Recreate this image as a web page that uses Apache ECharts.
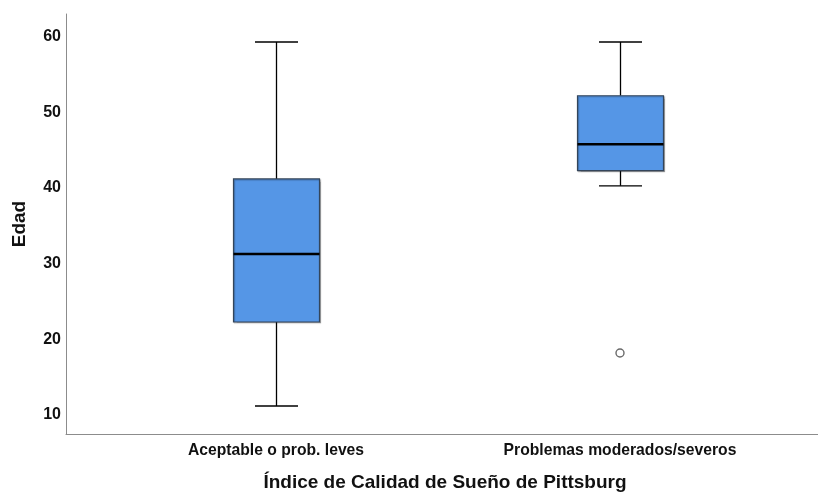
<!DOCTYPE html>
<html>
<head>
<meta charset="utf-8">
<script src="https://cdn.jsdelivr.net/npm/echarts@6/dist/echarts.min.js"></script>
<style>
  html, body { margin: 0; padding: 0; background: #fff; }
  #chart { width: 818px; height: 492px; }
</style>
</head>
<body>
<div id="chart"></div>
<script>
// categorías del eje X
const categories = ['Aceptable o prob. leves', 'Problemas moderados/severos']
// [min, Q1, mediana, Q3, max] por grupo
const boxMin = [11.2, 40.3]
const boxQ1 = [22.3, 42.3]
const boxMedian = [31.3, 45.8]
const boxQ3 = [41.2, 52.2]
const boxMax = [59.3, 59.3]
// valores atípicos: [índice de grupo, edad]
const outliers = [[1, 18.2]]
const yTicks = [10, 20, 30, 40, 50, 60]

const boxData = categories.map((c, i) => [i, boxMin[i], boxQ1[i], boxMedian[i], boxQ3[i], boxMax[i]])

const font = '"Liberation Sans", Arial, sans-serif'

// dibuja caja, bigotes y mediana con las escalas del eje
const renderBox = (params, api) => {
  const idx = api.value(0)
  const band = api.size([1, 0])[0]
  const hw = band * 0.125
  const cw = band * 0.0625
  const pMin = api.coord([idx, api.value(1)])
  const pQ1 = api.coord([idx, api.value(2)])
  const pMed = api.coord([idx, api.value(3)])
  const pQ3 = api.coord([idx, api.value(4)])
  const pMax = api.coord([idx, api.value(5)])
  const cx = Math.round(pMed[0]) + 0.5
  const line = { stroke: '#000', lineWidth: 1.3 }
  return {
    type: 'group',
    children: [
      { type: 'line', shape: { x1: cx, y1: pMax[1], x2: cx, y2: pQ3[1] }, style: line },
      { type: 'line', shape: { x1: cx, y1: pQ1[1], x2: cx, y2: pMin[1] }, style: line },
      { type: 'line', shape: { x1: cx - cw, y1: pMax[1], x2: cx + cw, y2: pMax[1] }, style: line },
      { type: 'line', shape: { x1: cx - cw, y1: pMin[1], x2: cx + cw, y2: pMin[1] }, style: line },
      {
        type: 'rect',
        shape: { x: cx - hw, y: pQ3[1], width: hw * 2, height: pQ1[1] - pQ3[1] },
        style: {
          fill: '#5596e6', stroke: '#34455a', lineWidth: 1.2,
          shadowColor: 'rgba(0,0,0,0.25)', shadowBlur: 1, shadowOffsetX: 1, shadowOffsetY: 1
        }
      },
      { type: 'line', shape: { x1: cx - hw, y1: pMed[1], x2: cx + hw, y2: pMed[1] }, style: { stroke: '#000', lineWidth: 2.5 } }
    ]
  }
}

const chart = echarts.init(document.getElementById('chart'))
const option = {
  animation: false,
  grid: [
    { left: 66, right: 0, top: 14, bottom: 58, outerBoundsMode: 'none', containLabel: false },
    { left: 104, right: 26, top: 14, bottom: 58, outerBoundsMode: 'none', containLabel: false }
  ],
  xAxis: [
    {
      gridIndex: 0, type: 'category', data: [''],
      axisLine: { show: true, lineStyle: { color: '#8c8c8c', width: 1 } },
      axisTick: { show: false }, axisLabel: { show: false }, splitLine: { show: false }
    },
    {
      gridIndex: 1, type: 'category', data: categories,
      axisLine: { show: false }, axisTick: { show: false },
      axisLabel: { color: '#111', fontFamily: font, fontWeight: 'bold', fontSize: 15.7, margin: 9 },
      name: 'Índice de Calidad de Sueño de Pittsburg',
      nameLocation: 'middle', nameGap: 39,
      nameTextStyle: { color: '#111', fontFamily: font, fontWeight: 'bold', fontSize: 19, padding: [0, 6, 0, 0] }
    }
  ],
  yAxis: [
    {
      gridIndex: 0, type: 'value', min: 7.5, max: 63,
      axisLine: { show: true, lineStyle: { color: '#8c8c8c', width: 1 } },
      axisTick: { show: false }, splitLine: { show: false },
      axisLabel: { customValues: yTicks, color: '#111', fontFamily: font, fontWeight: 'bold', fontSize: 16, margin: 5 },
      name: 'Edad', nameLocation: 'middle', nameGap: 37, nameRotate: 90,
      nameTextStyle: { color: '#111', fontFamily: font, fontWeight: 'bold', fontSize: 19 }
    },
    {
      gridIndex: 1, type: 'value', min: 7.5, max: 63, show: false
    }
  ],
  series: [
    {
      type: 'custom', xAxisIndex: 1, yAxisIndex: 1,
      renderItem: renderBox,
      encode: { x: 0, y: [1, 2, 3, 4, 5] },
      data: boxData
    },
    {
      type: 'scatter', xAxisIndex: 1, yAxisIndex: 1,
      symbol: 'circle', symbolSize: 8,
      itemStyle: { color: '#fff', borderColor: '#444', borderWidth: 1.4 },
      data: outliers
    }
  ]
}
chart.setOption(option)
</script>
</body>
</html>
